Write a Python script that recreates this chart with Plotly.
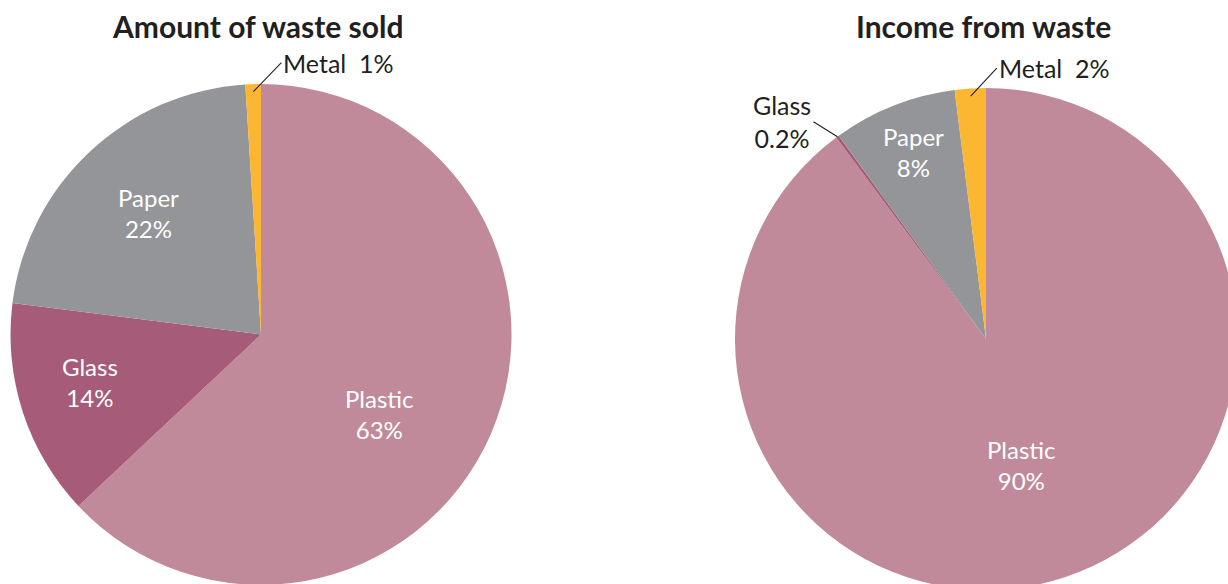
import math
import plotly.graph_objects as go

# ---- data -------------------------------------------------------------
materials = ["Plastic", "Glass", "Paper", "Metal"]
amount_sold_pct = [63, 14, 22, 1]
income_pct = [90, 0.2, 8, 2]

titles = ["Amount of waste sold", "Income from waste"]

# ---- styling ----------------------------------------------------------
colors = ["#C08A9B", "#A65C78", "#939598", "#FBB632"]
FONT = "Lato, 'Open Sans', sans-serif"
TEXT_DARK = "#231F20"

W, H = 1240, 592

# pie placement in pixels: (left, top, right, bottom)
boxes = [(10, 84, 512, 585), (735, 88, 1237, 590)]


def to_paper(px, py):
    return px / W, 1 - py / H


def geometry(box):
    l, t, r, b = box
    cx, cy = (l + r) / 2, (t + b) / 2
    rad = min(r - l, b - t) / 2
    return cx, cy, rad


def mid_angle(values, i):
    tot = sum(values)
    start = sum(values[:i]) / tot * 360
    return start + values[i] / tot * 360 / 2


def polar(box, ang_deg, frac):
    cx, cy, rad = geometry(box)
    a = math.radians(ang_deg)
    return cx + frac * rad * math.sin(a), cy - frac * rad * math.cos(a)


fig = go.Figure()
for k, (vals, box) in enumerate(zip([amount_sold_pct, income_pct], boxes)):
    l, t, r, b = box
    x0, y1 = to_paper(l, t)
    x1, y0 = to_paper(r, b)
    fig.add_trace(go.Pie(
        labels=materials,
        values=vals,
        sort=False,
        direction="clockwise",
        rotation=0,
        textinfo="none",
        hoverinfo="label+percent",
        marker=dict(colors=colors, line=dict(width=0)),
        showlegend=False,
        domain=dict(x=[x0, x1], y=[y0, y1]),
    ))

annotations = []

# titles
for box, title in zip(boxes, titles):
    cx, _, _ = geometry(box)
    x, y = to_paper(cx - 3, 26)
    annotations.append(dict(
        x=x, y=y, xref="paper", yref="paper", text=f"<b>{title}</b>",
        showarrow=False, xanchor="center", yanchor="middle",
        font=dict(family=FONT, size=30, color=TEXT_DARK),
    ))

# labels inside slices: (chart, slice, radius fraction, angular nudge)
inside = [
    (0, 0, 0.57, 10.5),
    (0, 1, 0.71, 2.4),
    (0, 2, 0.66, 0.4),
    (1, 0, 0.52, 2.4),
    (1, 2, 0.80, 0.3),
]
series = [amount_sold_pct, income_pct]
for c, i, frac, nudge in inside:
    vals = series[c]
    px, py = polar(boxes[c], mid_angle(vals, i) + nudge, frac)
    x, y = to_paper(px, py)
    annotations.append(dict(
        x=x, y=y, xref="paper", yref="paper",
        text=f"{materials[i]}<br>{vals[i]:g}%",
        showarrow=False, xanchor="center", yanchor="middle", align="center",
        font=dict(family=FONT, size=24, color="white"),
    ))

# callouts for thin slices: (chart, slice, text template, tail offset, anchor)
callouts = [
    (0, 3, "{m}  {v}%", (28, -29), "left"),
    (1, 3, "{m}  {v}%", (26, -28), "left"),
    (1, 1, "{m}<br>{v}%", (-24, -15), "right"),
]
for c, i, tpl, (ax, ay), anchor in callouts:
    vals = series[c]
    px, py = polar(boxes[c], mid_angle(vals, i), 0.97 if i == 3 else 1.0)
    x, y = to_paper(px, py)
    annotations.append(dict(
        x=x, y=y, xref="paper", yref="paper",
        text=tpl.format(m=materials[i], v=f"{vals[i]:g}"),
        showarrow=True, arrowhead=0, arrowwidth=1.1, arrowcolor=TEXT_DARK,
        ax=ax, ay=ay, standoff=0, startstandoff=0,
        xanchor=anchor, yanchor="middle", align="center",
        font=dict(family=FONT, size=25, color=TEXT_DARK),
    ))

fig.update_layout(
    width=W, height=H,
    margin=dict(l=0, r=0, t=0, b=0),
    paper_bgcolor="white",
    plot_bgcolor="white",
    annotations=annotations,
)

fig.write_html(
    "out.html",
    post_script=(
        "document.documentElement.style.overflow='hidden';"
        "document.body.style.overflow='hidden';"
        "document.body.style.margin='0';"
    ),
)
